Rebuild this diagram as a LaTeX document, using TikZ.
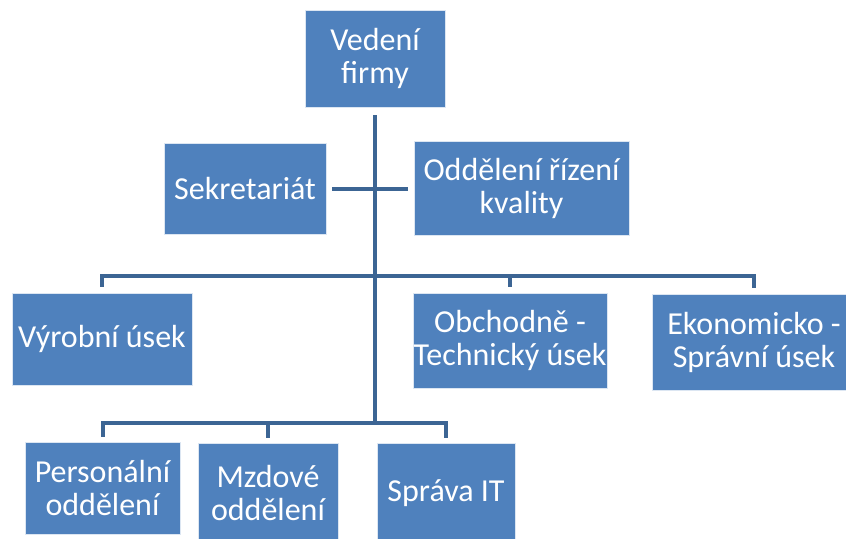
\documentclass[tikz,border=0pt]{standalone}
\usepackage{fontspec}
\setmainfont{Carlito}
\definecolor{boxblue}{RGB}{79,129,189}
\definecolor{lineblue}{RGB}{60,101,148}
\tikzset{box/.style={rectangle, fill=boxblue, draw=white!80!boxblue, thin, text=white,
align=center, inner sep=0pt, font=\fontsize{16}{16.5}\selectfont},
conn/.style={color=lineblue, line width=2pt}}

\begin{document}
\begin{tikzpicture}[x=0.5pt,y=-0.5pt]
  \useasboundingbox (0,0) rectangle (846,538);
  \clip (0,0) rectangle (846,538);
  \node (vf) [box, minimum width=70pt, minimum height=48.5pt] at (375,58.5) {Vedení\\firmy};
  \node (sek) [box, minimum width=81pt, minimum height=45.5pt] at (245,188.5) {Sekretariát};
  \node (okr) [box, minimum width=107.5pt, minimum height=47pt] at (521.5,188.5) {Oddělení řízení\\kvality};
  \node (vu) [box, minimum width=90pt, minimum height=46pt] at (102,339) {Výrobní úsek};
  \node (otu) [box, minimum width=97pt, minimum height=47.5pt] at (510,340.5) {Obchodně -\\Technický úsek};
  \node (esu) [box, minimum width=102pt, minimum height=48pt] at (754,342) {Ekonomicko -\\Správní úsek};
  \node (po) [box, minimum width=77.5pt, minimum height=46pt] at (102.5,488) {Personální\\oddělení};
  \node (mo) [box, minimum width=70pt, minimum height=50pt] at (268,493) {Mzdové\\oddělení};
  \node (sit) [box, minimum width=69pt, minimum height=50pt] at (446,493) {Správa IT};
  \coordinate (t1) at (375,276);
  \coordinate (t2) at (375,423);
  \draw [conn, shorten <=4pt] (vf.south) -- (t2);
  \draw [conn, shorten <=3pt, shorten >=3pt] (sek.east) -- (okr.west);
  \draw [conn, shorten <=3pt, shorten >=3pt] (vu.north) |- (t1) -| (esu.north);
  \draw [conn, shorten <=3pt] (otu.north) |- (t1);
  \draw [conn, shorten <=2.5pt, shorten >=2.5pt] (po.north) |- (t2) -| (sit.north);
  \draw [conn, shorten <=2.5pt] (mo.north) |- (t2);
\end{tikzpicture}
\end{document}
